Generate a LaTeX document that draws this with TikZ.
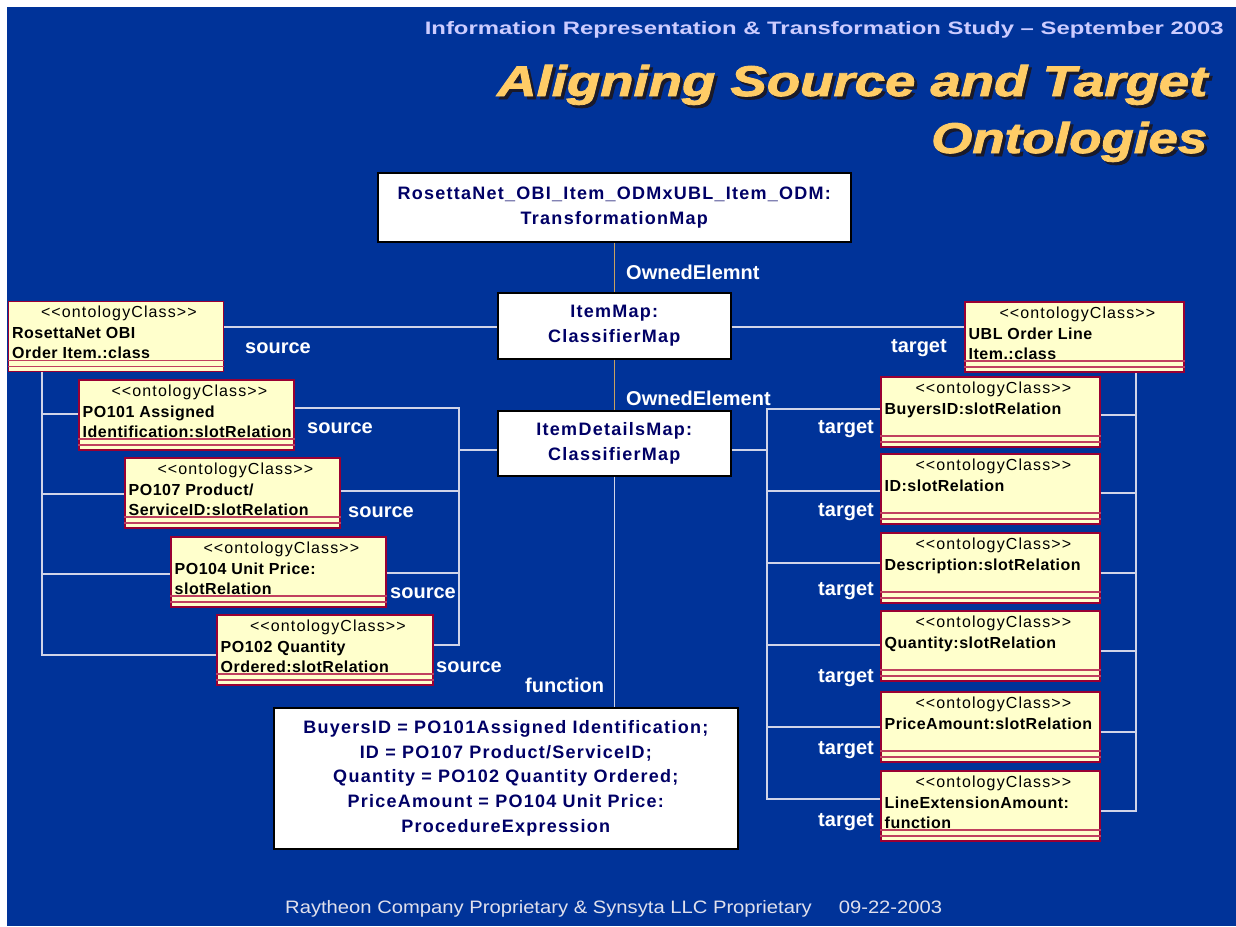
\documentclass[tikz,border=0pt]{standalone}
\usepackage{fontspec}
\usepackage{graphicx}
\setmainfont{Liberation Sans}
\newfontfamily\trk[LetterSpace=7]{Liberation Sans}
\newfontfamily\clsf[LetterSpace=3]{Liberation Sans}
\newfontface\heavy[FakeBold=1.8]{Liberation Sans Bold Italic}

\definecolor{slidebg}{HTML}{003399}
\definecolor{clsfill}{HTML}{FFFFCC}
\definecolor{clsedge}{HTML}{990033}
\definecolor{compline}{HTML}{C0405F}
\definecolor{navy}{HTML}{000066}
\definecolor{linegray}{HTML}{D0D4E8}
\definecolor{tanline}{HTML}{C8A060}
\definecolor{titleyel}{HTML}{FFCC66}
\definecolor{titleshadow}{HTML}{1A1A2A}
\definecolor{hdrcol}{HTML}{CCCCFF}
\definecolor{ftrcol}{HTML}{E0E0EC}

% title text with its drop shadow, stretched to a given width
\newcommand\shadowed[2]{%
  \makebox[0pt][l]{\hspace{3pt}\raisebox{-3pt}{\textcolor{titleshadow}{\resizebox{#1}{\height}{#2}}}}%
  \textcolor{titleyel}{\resizebox{#1}{\height}{#2}}}

\tikzset{
  clsbox/.style={draw=clsedge, line width=1.8pt, fill=clsfill, minimum width=#1,
    minimum height=70pt, inner sep=0pt, anchor=north west},
  stereo/.style={font=\trk\fontsize{16}{18}\selectfont, text=black, inner sep=0pt, anchor=base},
  clsname/.style={font=\clsf\bfseries\fontsize{16}{18}\selectfont, text=black, inner sep=0pt, anchor=base west},
  comp/.style={draw=compline, line width=1.6pt},
  mapbox/.style={draw=black, line width=1.6pt, fill=white, text=navy,
    font=\trk\bfseries\fontsize{18}{24.6}\selectfont, align=center, inner sep=0pt, anchor=north west},
  lbl/.style={text=white, font=\bfseries\fontsize{20}{24}\selectfont, inner sep=0pt},
  conn/.style={draw=linegray, line width=1.2pt},
  own/.style={draw=tanline, line width=1.2pt},
}

% ontology class box with one name line
\newcommand\oclassOne[5]{%
  \node[clsbox=#4] (#1) at (#2,#3) {};
  \node[stereo] (#1-st) at ([xshift=3pt,yshift=-17pt]#1.north) {<<ontologyClass>>};
  \node[clsname] (#1-n1) at ([xshift=4.5pt,yshift=-38pt]#1.north west) {#5};
  \draw[comp] ([yshift=12pt]#1.south west) -- ([yshift=12pt]#1.south east);
  \draw[comp] ([yshift=6pt]#1.south west) -- ([yshift=6pt]#1.south east);
}
% ontology class box with two name lines
\newcommand\oclassTwo[6]{%
  \oclassOne{#1}{#2}{#3}{#4}{#5}%
  \node[clsname] (#1-n2) at ([xshift=4.5pt,yshift=-58pt]#1.north west) {#6};
}

\begin{document}
\begin{tikzpicture}[x=1pt,y=-1pt]
\useasboundingbox (0,0) rectangle (1236,926);
\fill[white] (0,0) rectangle (1236,926);
\fill[slidebg] (7,7) rectangle (1236,926);

% header and title
\node[anchor=base east, inner sep=0pt, text=hdrcol, font=\bfseries\fontsize{18}{18}\selectfont]
  (hdr) at (1224,34) {\resizebox{799pt}{\height}{Information Representation \& Transformation Study – September 2003}};
\node[anchor=base west, inner sep=0pt, font=\heavy\fontsize{43}{43}\selectfont]
  (title1) at (497,96) {\shadowed{710pt}{Aligning Source and Target}};
\node[anchor=base west, inner sep=0pt, font=\heavy\fontsize{43}{43}\selectfont]
  (title2) at (931,153) {\shadowed{276pt}{Ontologies}};

% mapping boxes
\node[mapbox, minimum width=473pt, minimum height=69pt] (tmap) at (377,172)
  {RosettaNet\_OBI\_Item\_ODMxUBL\_Item\_ODM:\\TransformationMap};
\node[mapbox, minimum width=233pt, minimum height=66pt] (itemmap) at (497,292)
  {ItemMap:\\ClassifierMap};
\node[mapbox, minimum width=233pt, minimum height=65pt] (itemdet) at (497,410)
  {ItemDetailsMap:\\ClassifierMap};
\node[mapbox, minimum width=464pt, minimum height=141pt] (func) at (273,707)
  {BuyersID = PO101Assigned Identification;\\ID = PO107 Product/ServiceID;\\Quantity = PO102 Quantity Ordered;\\PriceAmount = PO104 Unit Price:\\ProcedureExpression};

% source ontology classes
\oclassTwo{ros}{7.5}{300.5}{215pt}{RosettaNet OBI}{Order Item.:class}
\oclassTwo{po101}{78}{379}{215pt}{PO101 Assigned}{Identification:slotRelation}
\oclassTwo{po107}{124}{457}{215pt}{PO107 Product/}{ServiceID:slotRelation}
\oclassTwo{po104}{170}{536}{215pt}{PO104 Unit Price:}{slotRelation}
\oclassTwo{po102}{216}{614}{216pt}{PO102 Quantity}{Ordered:slotRelation}

% target ontology classes
\oclassTwo{ubl}{964}{301}{219pt}{UBL Order Line}{Item.:class}
\oclassOne{buy}{880}{376}{219pt}{BuyersID:slotRelation}
\oclassOne{idr}{880}{453}{219pt}{ID:slotRelation}
\oclassOne{des}{880}{532}{219pt}{Description:slotRelation}
\oclassOne{qty}{880}{610}{219pt}{Quantity:slotRelation}
\oclassOne{pri}{880}{691}{219pt}{PriceAmount:slotRelation}
\oclassTwo{lea}{880}{770}{219pt}{LineExtensionAmount:}{function}

% ownership links
\draw[own] (tmap.south) -- (itemmap.north);
\draw[own] (itemmap.south) -- (itemdet.north);
\draw[conn] (itemdet.south) -- (itemdet.south |- func.north);

% class-level source / target links
\coordinate (hm) at (613,327);
\draw[conn] (hm -| ros.east) -- (hm -| itemmap.west);
\draw[conn] (hm -| itemmap.east) -- (hm -| ubl.west);

% left ownership bus of the source class
\coordinate (lbus) at (42,655);
\draw[conn] (ros.south -| lbus) -- (lbus) -- (lbus -| po102.west);
\coordinate (j101) at (42,414);
\coordinate (j107) at (42,494);
\coordinate (j104) at (42,574);
\draw[conn] (j101) -- (j101 -| po101.west);
\draw[conn] (j107) -- (j107 -| po107.west);
\draw[conn] (j104) -- (j104 -| po104.west);

% source links of the detail map
\coordinate (sbt) at (459,408);
\coordinate (sbb) at (459,645);
\draw[conn] (sbt -| po101.east) -- (sbt) -- (sbb) -- (sbb -| po102.east);
\coordinate (s107) at (459,491);
\coordinate (s104) at (459,573);
\coordinate (sin) at (459,450);
\draw[conn] (s107 -| po107.east) -- (s107);
\draw[conn] (s104 -| po104.east) -- (s104);
\draw[conn] (sin) -- (sin -| itemdet.west);

% target links of the detail map
\coordinate (tbt) at (767,409);
\coordinate (tbb) at (767,799);
\draw[conn] (tbt -| buy.west) -- (tbt) -- (tbb) -- (tbb -| lea.west);
\coordinate (tin) at (767,450);
\coordinate (tidr) at (767,491);
\coordinate (tdes) at (767,563);
\coordinate (tqty) at (767,645);
\coordinate (tpri) at (767,727);
\draw[conn] (tin -| itemdet.east) -- (tin);
\draw[conn] (tidr) -- (tidr -| idr.west);
\draw[conn] (tdes) -- (tdes -| des.west);
\draw[conn] (tqty) -- (tqty -| qty.west);
\draw[conn] (tpri) -- (tpri -| pri.west);

% right ownership bus of the target class
\coordinate (rbb) at (1136,811);
\draw[conn] (ubl.south -| rbb) -- (rbb) -- (rbb -| lea.east);
\coordinate (rbuy) at (1136,415);
\coordinate (ridr) at (1136,493);
\coordinate (rdes) at (1136,573);
\coordinate (rqty) at (1136,651);
\coordinate (rpri) at (1136,732);
\draw[conn] (rbuy -| buy.east) -- (rbuy);
\draw[conn] (ridr -| idr.east) -- (ridr);
\draw[conn] (rdes -| des.east) -- (rdes);
\draw[conn] (rqty -| qty.east) -- (rqty);
\draw[conn] (rpri -| pri.east) -- (rpri);

% role labels
\node[lbl, anchor=base west] (own1) at (626,279) {OwnedElemnt};
\node[lbl, anchor=base west] (own2) at (626,405) {OwnedElement};
\node[lbl, anchor=base west] (src0) at (245,353) {source};
\node[lbl, anchor=base west] (src1) at (307,433) {source};
\node[lbl, anchor=base west] (src2) at (348,517) {source};
\node[lbl, anchor=base west] (src3) at (390,598) {source};
\node[lbl, anchor=base west] (src4) at (436,672) {source};
\node[lbl, anchor=base west] (fnl) at (525,692) {function};
\node[lbl, anchor=base west] (tg0) at (891,352) {target};
\node[lbl, anchor=base east] (tg1) at (874,433) {target};
\node[lbl, anchor=base east] (tg2) at (874,516) {target};
\node[lbl, anchor=base east] (tg3) at (874,595) {target};
\node[lbl, anchor=base east] (tg4) at (874,682) {target};
\node[lbl, anchor=base east] (tg5) at (874,754) {target};
\node[lbl, anchor=base east] (tg6) at (874,826) {target};

% footer
\node[anchor=base west, inner sep=0pt, text=ftrcol, font=\fontsize{18}{18}\selectfont]
  (ftr) at (285,913) {\resizebox{657pt}{\height}{Raytheon Company Proprietary \& Synsyta LLC Proprietary\hspace{24pt}09-22-2003}};
\end{tikzpicture}
\end{document}
